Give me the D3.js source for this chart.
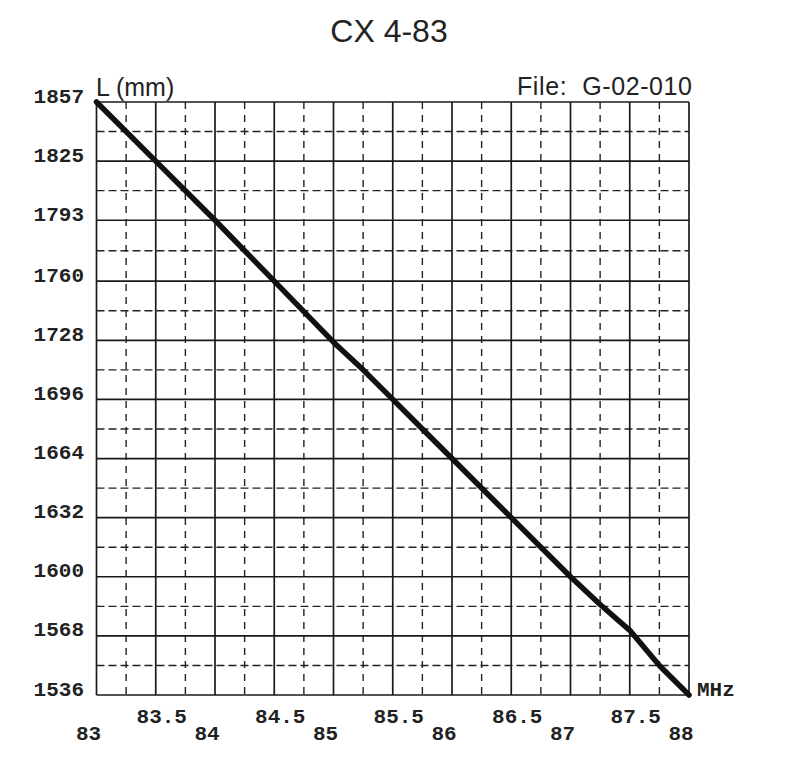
<!DOCTYPE html>
<html>
<head>
<meta charset="utf-8">
<script src="https://cdn.jsdelivr.net/npm/d3@7/dist/d3.min.js"></script>
<style>
  html, body { margin: 0; padding: 0; background: #fff; }
  svg { display: block; }
</style>
</head>
<body>
<svg id="chart" width="801" height="764"></svg>
<script>
// ---- data ----
const title = "CX 4-83";
const yAxisTitle = "L (mm)";
const fileLabel = "File:  G-02-010";
const xUnit = "MHz";

const freqMHz = [83, 83.5, 84, 84.5, 85, 85.25, 85.5, 85.75, 86, 86.5, 87, 87.25, 87.5, 87.75, 88];
const lengthMM = [1857, 1825, 1793, 1760, 1727, 1712, 1696, 1680, 1664, 1632, 1600, 1585, 1571, 1552, 1536];

const xTickValues = [83, 83.5, 84, 84.5, 85, 85.5, 86, 86.5, 87, 87.5, 88];
const xTickLabels = ["83", "83.5", "84", "84.5", "85", "85.5", "86", "86.5", "87", "87.5", "88"];
const yTickLabels = ["1536", "1568", "1600", "1632", "1664", "1696", "1728", "1760", "1793", "1825", "1857"];

// ---- layout ----
const svg = d3.select("#chart");
const pLeft = 96.5, pRight = 689, pTop = 102, pBottom = 695;

const x = d3.scaleLinear().domain([83, 88]).range([pLeft, pRight]);
const y = d3.scaleLinear().domain([1536, 1857]).range([pBottom, pTop]);

const yTickValues = yTickLabels.map(Number);
const xMinor = d3.pairs(xTickValues).map(([a, b]) => (a + b) / 2);
const yMinor = d3.pairs(yTickValues).map(([a, b]) => (a + b) / 2);

const g = svg.append("g");

// dashed minor grid
g.selectAll("line.xminor").data(xMinor).join("line")
  .attr("x1", d => x(d)).attr("x2", d => x(d))
  .attr("y1", pTop).attr("y2", pBottom)
  .attr("stroke", "#222").attr("stroke-width", 1.4)
  .attr("stroke-dasharray", "7,6");
g.selectAll("line.yminor").data(yMinor).join("line")
  .attr("x1", pLeft).attr("x2", pRight)
  .attr("y1", d => y(d)).attr("y2", d => y(d))
  .attr("stroke", "#222").attr("stroke-width", 1.4)
  .attr("stroke-dasharray", "8,4");

// solid major grid
g.selectAll("line.xmajor").data(xTickValues).join("line")
  .attr("x1", d => x(d)).attr("x2", d => x(d))
  .attr("y1", pTop).attr("y2", pBottom)
  .attr("stroke", "#1a1a1a").attr("stroke-width", 1.7);
g.selectAll("line.ymajor").data(yTickValues).join("line")
  .attr("x1", pLeft).attr("x2", pRight)
  .attr("y1", d => y(d)).attr("y2", d => y(d))
  .attr("stroke", "#1a1a1a").attr("stroke-width", 1.7);

// curve
const line = d3.line().x((d, i) => x(freqMHz[i])).y(d => y(d));
g.append("path").datum(lengthMM)
  .attr("d", line)
  .attr("fill", "none")
  .attr("stroke", "#111")
  .attr("stroke-width", 5.5)
  .attr("stroke-linejoin", "round")
  .attr("stroke-linecap", "round");

// y tick labels
const mono = "'Liberation Mono', 'Courier New', monospace";
g.selectAll("text.ylab").data(yTickValues).join("text")
  .attr("x", 84).attr("y", d => y(d) + 0.5)
  .attr("text-anchor", "end")
  .attr("font-family", mono).attr("font-weight", "bold")
  .attr("font-size", 21).attr("fill", "#222")
  .text((d, i) => yTickLabels[i]);

// x tick labels (half values upper row shifted right, integers lower row shifted left)
g.selectAll("text.xlab").data(xTickValues).join("text")
  .attr("x", d => Number.isInteger(d) ? x(d) - 8 : x(d) + 6)
  .attr("y", d => Number.isInteger(d) ? 739.5 : 722.5)
  .attr("text-anchor", "middle")
  .attr("font-family", mono).attr("font-weight", "bold")
  .attr("font-size", 21).attr("fill", "#222")
  .text((d, i) => xTickLabels[i]);

// unit
g.append("text").attr("x", 697).attr("y", 696)
  .attr("font-family", mono).attr("font-weight", "bold")
  .attr("font-size", 21).attr("fill", "#222")
  .text(xUnit);

// titles
const sans = "'Liberation Sans', Arial, sans-serif";
svg.append("text").attr("x", 389).attr("y", 42)
  .attr("text-anchor", "middle")
  .attr("font-family", sans).attr("font-size", 32).attr("fill", "#222")
  .text(title);
svg.append("text").attr("x", 96).attr("y", 96)
  .attr("font-family", sans).attr("font-size", 25).attr("fill", "#222")
  .text(yAxisTitle);
svg.append("text").attr("x", 692).attr("y", 94.5)
  .attr("text-anchor", "end")
  .style("white-space", "pre")
  .attr("font-family", sans).attr("font-size", 25).attr("fill", "#222")
  .attr("textLength", 175).attr("lengthAdjust", "spacing")
  .text(fileLabel);
</script>
</body>
</html>
